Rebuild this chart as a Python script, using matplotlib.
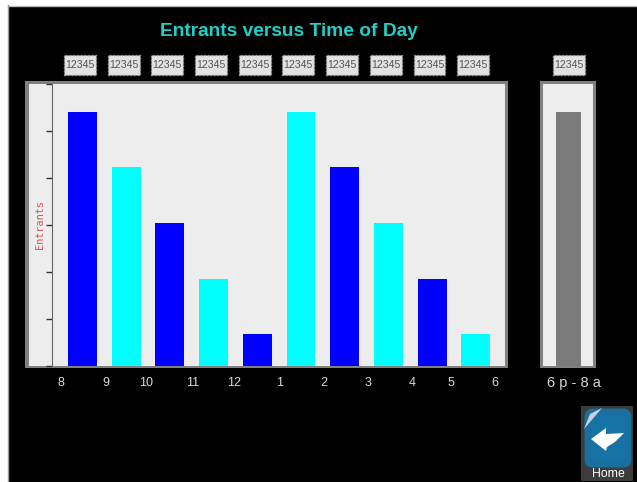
"""
    Entrants versus Time of Day
"""

import matplotlib
matplotlib.use("Agg")
import matplotlib.pyplot as plt
from matplotlib.patches import FancyBboxPatch, Polygon, Rectangle

W, H = 637, 482

# data
hours = ["8", "9", "10", "11", "12", "1", "2", "3", "4", "5", "6"]
entrants = [5.4, 4.23, 3.04, 1.85, 0.68, 5.4, 4.23, 3.04, 1.85, 0.68]
bar_colors = ["#0000ff", "#00ffff"] * 5
overnight_label = "6 p - 8 a"
overnight = [5.4]
value_labels = ["12345"] * 10

# hour labels sit near the bar edges, a little uneven in the original
hour_pos = [-0.49, 0.54, 1.45, 2.53, 3.47, 4.52, 5.53, 6.53, 7.54, 8.43, 9.44]

plt.rcParams["font.family"] = ["Liberation Sans", "DejaVu Sans"]


def px_axes(fig, left, top, right, bottom, **kw):
    """
        pixel box (from the top left corner) to a figure axes
    """
    return fig.add_axes([left / W, 1 - bottom / H, (right - left) / W, (bottom - top) / H], **kw)


def value_box(ax, x, text, box_w):
    """
        little dotted box with the value over a bar, box_w in x data units
    """
    trans = ax.get_xaxis_transform()
    ax.add_patch(Rectangle((x - box_w / 2, 1.032), box_w, 0.071, transform=trans, clip_on=False,
                           fc="#e2e2e2", ec="#9a9a9a", ls=":", lw=1))
    ax.text(x, 1.068, text, transform=trans, ha="center", va="center", fontsize=7.6,
            color="#555555", clip_on=False)


fig = plt.figure(figsize=(W / 100, H / 100), dpi=100, facecolor="white")

# background in pixel coordinates
bg = fig.add_axes([0, 0, 1, 1])
bg.set_xlim(0, W)
bg.set_ylim(H, 0)
bg.axis("off")
bg.add_patch(Rectangle((8, 6), W - 8, H - 6, fc="black", ec="none"))
bg.plot([8, W], [5.5, 5.5], color="#bcbcbc", lw=1)
bg.plot([7.5, 7.5], [5, H], color="#9a9a9a", lw=1)
bg.add_patch(Rectangle((25, 81), 483, 287, fc="#808080", ec="none"))
bg.add_patch(Rectangle((540, 81), 56, 287, fc="#808080", ec="none"))

# home button
bg.add_patch(Rectangle((581, 406), 52, 75, fc="#3c3c3c", ec="none"))
bg.add_patch(FancyBboxPatch((588, 412), 40, 52, boxstyle="round,pad=0,rounding_size=5",
                            fc="#1673a6", ec="#1a6f9e", lw=5))
bg.add_patch(Polygon([(584, 429), (590, 414), (602, 408)], fc="#c9d2dc", ec="none"))
bg.add_patch(Polygon([(591, 439), (606, 428), (606, 434), (624, 433), (615, 442),
                      (607, 447), (606, 451)], fc="white", ec="none"))
bg.text(608, 474, "Home", color="white", fontsize=8.8, ha="center", va="center")

bg.text(289, 32, "Entrants versus Time of Day", color="#1fd0c8", fontsize=13.8, fontweight="bold",
        ha="center", va="center")

# main chart
ax = px_axes(fig, 29, 84, 505, 366, facecolor="#ededed")
ax.bar(range(len(entrants)), entrants, width=0.66, color=bar_colors)
ax.set_xlim(-1.224, 9.668)
ax.set_ylim(0, 6)
for spine in ["top", "right", "bottom"]:
    ax.spines[spine].set_visible(False)
ax.spines["left"].set_position(("data", -0.70))
ax.spines["left"].set_color("#666666")
ax.set_yticks(range(7))
ax.set_yticklabels([])
ax.tick_params(axis="y", direction="out", length=4.5, color="#333333", width=1)
ax.set_xticks(hour_pos)
ax.set_xticklabels(hours, color="#d8d8d8", fontsize=9)
ax.tick_params(axis="x", length=0, pad=8)
ax.text(-0.97, 3.0, "Entrants", rotation=90, color="#e05050", fontsize=7.4, ha="center", va="center",
        family=["DejaVu Sans Mono"])
for i, label in enumerate(value_labels):
    value_box(ax, i - 0.06, label, 0.73)

# 6p-8a panel
ax2 = px_axes(fig, 543, 84, 593, 366, facecolor="#ededed")
ax2.bar([0], overnight, width=1, color="#7a7a7a")
ax2.set_xlim(-1.02, 0.98)
ax2.set_ylim(0, 6)
for spine in ax2.spines.values():
    spine.set_visible(False)
ax2.set_yticks([])
ax2.set_xticks([0.22])
ax2.set_xticklabels([overnight_label], color="#d8d8d8", fontsize=10.5)
ax2.tick_params(axis="x", length=0, pad=7.5)
value_box(ax2, 0.02, "12345", 1.28)

fig.savefig("out.png", dpi=100, facecolor=fig.get_facecolor())
